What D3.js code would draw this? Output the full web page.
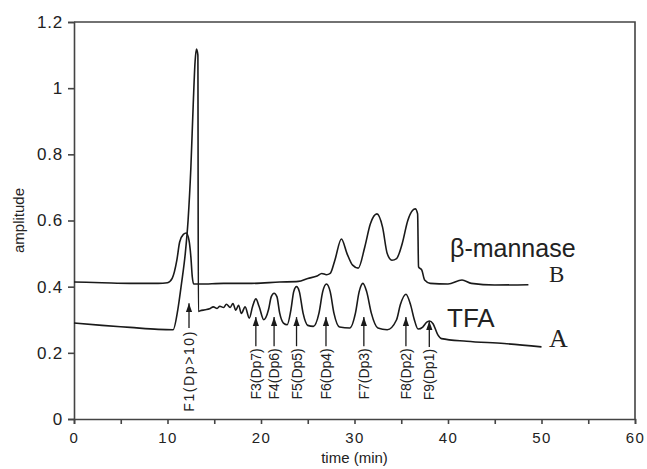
<!DOCTYPE html>
<html>
<head>
<meta charset="utf-8">
<script src="https://cdn.jsdelivr.net/npm/d3@7"></script>
<style>
  body { margin: 0; background: #fff; }
  text { font-family: "Liberation Sans", Arial, sans-serif; fill: #222; }
</style>
</head>
<body>
<div id="chart"></div>
<script>
// TFA hydrolysate (curve A)
var tfaTime = [0, 3, 6, 9, 10.6, 11.1, 11.5, 11.9, 12.2, 12.5, 12.75, 12.95, 13.1, 13.25, 13.3,
  13.5, 14.0, 14.5, 14.9, 15.3, 15.6, 16.0, 16.3, 16.7, 17.0, 17.3, 17.6, 17.9, 18.3, 18.75,
  19.1, 19.45, 19.8, 20.3, 20.8, 21.1, 21.4, 21.7, 22.0, 22.4, 22.8, 23.2, 23.5, 23.8, 24.1,
  24.5, 25.0, 25.6, 26.2, 26.6, 27.0, 27.4, 27.8, 28.4, 29.5, 30.1, 30.5, 30.9, 31.3, 31.8,
  32.5, 33.5, 34.5, 34.9, 35.5, 36.0, 36.4, 36.8, 37.3, 37.7, 38.0, 38.4, 38.9, 39.3, 42, 46, 50];
var tfaAmp = [0.290, 0.283, 0.277, 0.271, 0.27, 0.33, 0.41, 0.50, 0.60, 0.76, 0.95, 1.08, 1.118, 1.10, 0.325,
  0.327, 0.330, 0.333, 0.339, 0.334, 0.341, 0.337, 0.347, 0.337, 0.349, 0.329, 0.344, 0.319, 0.339, 0.305,
  0.34, 0.363, 0.34, 0.30, 0.33, 0.37, 0.38, 0.37, 0.32, 0.29, 0.285, 0.33, 0.385, 0.40, 0.385,
  0.32, 0.283, 0.28, 0.32, 0.385, 0.408, 0.385, 0.32, 0.278, 0.275, 0.32, 0.385, 0.41, 0.385, 0.32,
  0.275, 0.27, 0.30, 0.345, 0.377, 0.345, 0.30, 0.272, 0.278, 0.292, 0.296, 0.288, 0.255, 0.243, 0.235, 0.228, 0.218];

// beta-mannase hydrolysate (curve B)
var mannaseTime = [0, 3, 6, 9, 10.0, 10.5, 11.0, 11.3, 11.7, 12.0, 12.3, 12.5, 12.65, 12.8, 13.5,
  16, 19, 22, 24, 25, 26, 26.5, 27.0, 27.4, 27.9, 28.6, 29.2, 29.8, 30.4, 31.1, 31.7, 32.4,
  33.0, 33.5, 34.0, 34.5, 35.1, 35.7, 36.2, 36.5, 36.75, 36.85, 37.2, 37.5, 38.1, 40, 41.5, 42.5, 45, 48.6];
var mannaseAmp = [0.414, 0.412, 0.410, 0.410, 0.412, 0.425, 0.48, 0.535, 0.558, 0.562, 0.54, 0.49, 0.43, 0.408, 0.408,
  0.410, 0.410, 0.414, 0.416, 0.425, 0.432, 0.44, 0.436, 0.44, 0.48, 0.544, 0.50, 0.465, 0.456, 0.52, 0.59, 0.62,
  0.58, 0.50, 0.48, 0.485, 0.53, 0.60, 0.63, 0.635, 0.62, 0.46, 0.45, 0.42, 0.41, 0.408, 0.42, 0.41, 0.405, 0.406];

// fraction labels and the retention times they point to
var peakLabels = ["F1(Dp>10)", "F3(Dp7)", "F4(Dp6)", "F5(Dp5)", "F6(Dp4)", "F7(Dp3)", "F8(Dp2)", "F9(Dp1)"];
var peakTimes = [12.3, 19.45, 21.4, 23.8, 26.95, 31.0, 35.5, 38.0];
var arrowTip = [0.35, 0.308, 0.308, 0.308, 0.308, 0.308, 0.308, 0.296];
var arrowTail = [0.275, 0.22, 0.22, 0.22, 0.22, 0.22, 0.22, 0.218];

var xTicks = [0, 10, 20, 30, 40, 50, 60];
var xMinor = [5, 15, 25, 35, 45, 55];
var yTicks = [0, 0.2, 0.4, 0.6, 0.8, 1, 1.2];

var width = 647, height = 469;
var margin = {top: 22, right: 12, bottom: 50, left: 74};

var svg = d3.select("#chart").append("svg")
    .attr("width", width)
    .attr("height", height);

var x = d3.scaleLinear().domain([0, 60]).range([margin.left, width - margin.right]);
var y = d3.scaleLinear().domain([0, 1.2]).range([height - margin.bottom, margin.top]);

// frame top + right
svg.append("path")
    .attr("d", "M" + x(0) + "," + y(1.2) + "H" + x(60) + "V" + y(0))
    .attr("fill", "none")
    .attr("stroke", "#444")
    .attr("stroke-width", 1.6);

var xAxis = svg.append("g")
    .attr("transform", "translate(0," + y(0) + ")")
    .call(d3.axisBottom(x).tickValues(xTicks).tickSize(5).tickFormat(d3.format("d")));
svg.append("g")
    .attr("transform", "translate(0," + y(0) + ")")
    .call(d3.axisBottom(x).tickValues(xMinor).tickSize(5).tickFormat(""))
    .select(".domain").remove();
xAxis.selectAll("text")
    .attr("font-size", 15)
    .attr("letter-spacing", 1.5)
    .attr("dy", "1.05em")
    .style("font-family", "Liberation Sans, Arial, sans-serif");

var yAxis = svg.append("g")
    .attr("transform", "translate(" + x(0) + ",0)")
    .call(d3.axisLeft(y).tickValues(yTicks).tickSize(6).tickFormat(function(d) { return d3.format("~g")(d); }));
yAxis.selectAll("text")
    .attr("font-size", 17)
    .attr("letter-spacing", 0.8)
    .attr("x", -11)
    .style("font-family", "Liberation Sans, Arial, sans-serif");

svg.selectAll(".domain, .tick line").attr("stroke", "#444").attr("stroke-width", 1.6);

// axis titles
svg.append("text")
    .attr("x", (x(0) + x(60)) / 2)
    .attr("y", 463)
    .attr("text-anchor", "middle")
    .attr("font-size", 15)
    .text("time  (min)");

svg.append("text")
    .attr("transform", "translate(24," + y(0.6) + ") rotate(-90)")
    .attr("text-anchor", "middle")
    .attr("font-size", 15)
    .text("amplitude");

// curves
var line = d3.line()
    .x(function(d) { return x(d[0]); })
    .y(function(d) { return y(d[1]); })
    .curve(d3.curveMonotoneX);

var curves = [d3.zip(mannaseTime, mannaseAmp), d3.zip(tfaTime, tfaAmp)];
svg.selectAll(".curve")
    .data(curves)
    .enter().append("path")
    .attr("class", "curve")
    .attr("d", line)
    .attr("fill", "none")
    .attr("stroke", "#1a1a1a")
    .attr("stroke-width", 1.6)
    .attr("stroke-linejoin", "round");

// arrows + fraction labels
svg.append("defs").append("marker")
    .attr("id", "head")
    .attr("viewBox", "0 0 10 10")
    .attr("refX", 10).attr("refY", 5)
    .attr("markerWidth", 7).attr("markerHeight", 7)
    .attr("orient", "auto")
    .append("path")
    .attr("d", "M0,1.5L10,5L0,8.5Z")
    .attr("fill", "#1a1a1a");

var peaks = svg.selectAll(".peak")
    .data(peakLabels)
    .enter().append("g")
    .attr("class", "peak");

peaks.append("line")
    .attr("x1", function(d, i) { return x(peakTimes[i]); })
    .attr("x2", function(d, i) { return x(peakTimes[i]); })
    .attr("y1", function(d, i) { return y(arrowTail[i]); })
    .attr("y2", function(d, i) { return y(arrowTip[i]); })
    .attr("stroke", "#1a1a1a")
    .attr("stroke-width", 1.3)
    .attr("marker-end", "url(#head)");

peaks.append("text")
    .attr("transform", function(d, i) {
      return "translate(" + (x(peakTimes[i]) + 5) + "," + (y(arrowTail[i]) + 2) + ") rotate(-90)";
    })
    .attr("text-anchor", "end")
    .attr("font-size", 14)
    .attr("letter-spacing", function(d, i) { return i === 0 ? 1.6 : 0; })
    .text(function(d) { return d; });

// series labels
svg.append("text")
    .attr("x", 450).attr("y", 257)
    .attr("font-size", 25)
    .text("β-mannase");
svg.append("text")
    .attr("x", 549).attr("y", 282)
    .attr("font-size", 23)
    .style("font-family", "Liberation Serif, Times New Roman, serif")
    .text("B");
svg.append("text")
    .attr("x", 447).attr("y", 327)
    .attr("font-size", 26)
    .text("TFA");
svg.append("text")
    .attr("x", 549).attr("y", 347)
    .attr("font-size", 26)
    .style("font-family", "Liberation Serif, Times New Roman, serif")
    .text("A");
</script>
</body>
</html>
